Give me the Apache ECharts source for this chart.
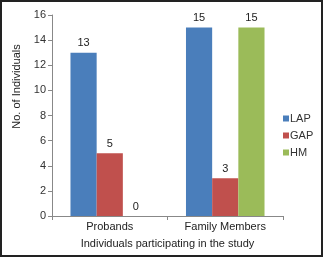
<!DOCTYPE html>
<html>
<head>
<meta charset="utf-8">
<script src="https://cdn.jsdelivr.net/npm/echarts@6/dist/echarts.min.js"></script>
<style>
  html, body { margin: 0; padding: 0; background: #fff; }
  #wrap { position: relative; width: 323px; height: 257px; }
  #chart { position: absolute; left: 0; top: 0; width: 323px; height: 257px; }
  #frame { position: absolute; left: 0; top: 0; width: 323px; height: 257px;
           box-sizing: border-box; border: 2px solid #222; pointer-events: none; }
</style>
</head>
<body>
<div id="wrap">
  <div id="chart"></div>
  <div id="frame"></div>
</div>
<script>
// groups on the x axis
const categories = ['Probands', 'Family Members'];
// counts per group
const lapValues = [13, 15];
const gapValues = [5, 3];
const hmValues = [0, 15];
const yTicks = { min: 0, max: 16, interval: 2 };

const chart = echarts.init(document.getElementById('chart'), null, { renderer: 'canvas' });

const labelStyle = {
  show: true,
  position: 'top',
  color: '#222',
  fontSize: 11,
  fontFamily: 'Liberation Sans',
  distance: 4
};

function barSeries(name, data, color) {
  return {
    name: name,
    type: 'bar',
    data: data,
    barCategoryGap: '32%',
    barGap: '0%',
    itemStyle: { color: color },
    label: labelStyle
  };
}

const option = {
  animation: false,
  backgroundColor: '#fff',
  textStyle: { fontFamily: 'Liberation Sans' },
  grid: {
    left: 52,
    right: 40,
    top: 15,
    bottom: 41
  },
  legend: {
    orient: 'vertical',
    left: 278,
    top: 108,
    itemWidth: 6,
    itemHeight: 6,
    itemGap: 6,
    icon: 'rect',
    textStyle: { color: '#333', fontSize: 11, padding: [0, 0, 0, -4] },
    data: ['LAP', 'GAP', 'HM']
  },
  xAxis: {
    type: 'category',
    data: categories,
    name: 'Individuals participating in the study',
    nameLocation: 'middle',
    nameGap: 22,
    nameTextStyle: { color: '#222', fontSize: 11 },
    axisLine: { lineStyle: { color: '#888' } },
    axisTick: { show: true, length: 4, lineStyle: { color: '#888' } },
    axisLabel: { color: '#222', fontSize: 11, margin: 5 }
  },
  yAxis: {
    type: 'value',
    min: yTicks.min,
    max: yTicks.max,
    interval: yTicks.interval,
    name: 'No. of Individuals',
    nameLocation: 'middle',
    nameGap: 23,
    nameTextStyle: { color: '#222', fontSize: 11, padding: [0, 0, 0, 58] },
    axisLine: { show: true, lineStyle: { color: '#888' } },
    axisTick: { show: true, length: 4, lineStyle: { color: '#888' } },
    axisLabel: { color: '#333', fontSize: 11, margin: 6 },
    splitLine: { show: false }
  },
  series: [
    barSeries('LAP', lapValues, '#4a7ebb'),
    barSeries('GAP', gapValues, '#c0504d'),
    barSeries('HM', hmValues, '#9bbb59')
  ]
};

chart.setOption(option);
</script>
</body>
</html>
